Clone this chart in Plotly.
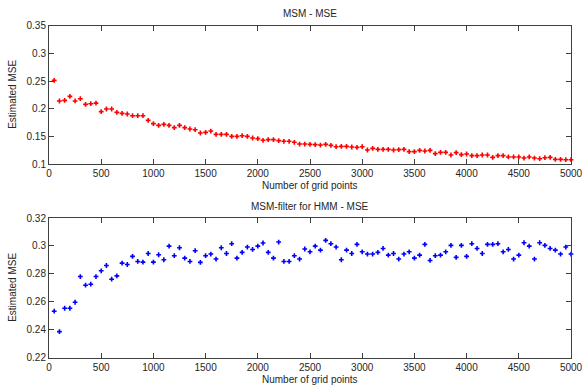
import plotly.graph_objects as go

grid_points = list(range(50, 5001, 50))

msm_mse = [
    0.2512, 0.2139, 0.2150, 0.2223, 0.2140, 0.2180, 0.2078, 0.2090, 0.2100, 0.1946,
    0.1994, 0.1994, 0.1934, 0.1916, 0.1904, 0.1873, 0.1873, 0.1873, 0.1789, 0.1729,
    0.1699, 0.1717, 0.1699, 0.1657, 0.1699, 0.1657, 0.1633, 0.1620, 0.1560, 0.1572,
    0.1596, 0.1536, 0.1536, 0.1536, 0.1500, 0.1500, 0.1512, 0.1500, 0.1470, 0.1458,
    0.1428, 0.1440, 0.1440, 0.1422, 0.1410, 0.1410, 0.1392, 0.1361, 0.1361, 0.1355,
    0.1350, 0.1343, 0.1355, 0.1337, 0.1313, 0.1319, 0.1319, 0.1307, 0.1301, 0.1313,
    0.1253, 0.1283, 0.1265, 0.1265, 0.1265, 0.1253, 0.1259, 0.1265, 0.1223, 0.1223,
    0.1247, 0.1235, 0.1247, 0.1187, 0.1211, 0.1211, 0.1163, 0.1205, 0.1169, 0.1181,
    0.1151, 0.1151, 0.1163, 0.1163, 0.1120, 0.1151, 0.1151, 0.1127, 0.1127, 0.1127,
    0.1108, 0.1127, 0.1108, 0.1096, 0.1114, 0.1120, 0.1084, 0.1084, 0.1078, 0.1078,
]

hmm_mse = [
    0.2533, 0.2387, 0.2554, 0.2554, 0.2597, 0.2781, 0.2719, 0.2726, 0.2781, 0.2822,
    0.2860, 0.2762, 0.2786, 0.2877, 0.2867, 0.2925, 0.2889, 0.2884, 0.2946, 0.2884,
    0.2937, 0.2901, 0.2999, 0.2930, 0.2987, 0.2913, 0.2889, 0.2966, 0.2882, 0.2930,
    0.2942, 0.2906, 0.2987, 0.2946, 0.3016, 0.2913, 0.2954, 0.2992, 0.2975, 0.2999,
    0.3021, 0.2954, 0.2913, 0.3028, 0.2889, 0.2889, 0.2930, 0.2906, 0.2978, 0.2958,
    0.2999, 0.2970, 0.3040, 0.3016, 0.2992, 0.2901, 0.2970, 0.2946, 0.3011, 0.2958,
    0.2942, 0.2942, 0.2954, 0.2982, 0.2934, 0.2946, 0.2906, 0.2942, 0.2958, 0.2913,
    0.2934, 0.3011, 0.2896, 0.2930, 0.2934, 0.2958, 0.3004, 0.2918, 0.3004, 0.2925,
    0.3016, 0.2982, 0.2946, 0.3011, 0.3011, 0.3016, 0.2958, 0.2975, 0.2906, 0.2934,
    0.3023, 0.2999, 0.2906, 0.3023, 0.3004, 0.2982, 0.2970, 0.2942, 0.2992, 0.2942,
]

titles = ["MSM - MSE", "MSM-filter for HMM - MSE"]
x_title = "Number of grid points"
y_title = "Estimated MSE"
x_ticks = [0, 500, 1000, 1500, 2000, 2500, 3000, 3500, 4000, 4500, 5000]
top_y_ticks = [0.1, 0.15, 0.2, 0.25, 0.3, 0.35]
bot_y_ticks = [0.22, 0.24, 0.26, 0.28, 0.3, 0.32]

FONT = "Liberation Sans, Arial, sans-serif"
TXT = "#262626"
FS = 10
W, H = 582, 385

fig = go.Figure()
fig.add_trace(go.Scatter(
    x=grid_points, y=msm_mse, mode="markers", xaxis="x", yaxis="y",
    marker=dict(symbol="cross", size=4, color="#ff0000", line=dict(width=0)),
    showlegend=False, cliponaxis=False))
fig.add_trace(go.Scatter(
    x=grid_points, y=hmm_mse, mode="markers", xaxis="x2", yaxis="y2",
    marker=dict(symbol="cross", size=4, color="#0000ff", line=dict(width=0)),
    showlegend=False, cliponaxis=False))

# pixel geometry of the two plot boxes
left, right = 49, 571
top1, bot1 = 25.7, 164
top2, bot2 = 218, 357.7


def fx(p):
    return p / W


def fy(p):
    return 1 - p / H


axis_common = dict(
    showgrid=False, zeroline=False, showline=True, linecolor="#404040", linewidth=1,
    mirror="ticks", ticks="inside", ticklen=5, tickcolor="#404040", tickwidth=1,
    tickfont=dict(family=FONT, size=FS, color=TXT), automargin=False,
    ticklabeloverflow="allow",
)

fig.update_layout(
    width=W, height=H, margin=dict(l=0, r=0, t=0, b=0, autoexpand=False),
    paper_bgcolor="white", plot_bgcolor="white",
    font=dict(family=FONT, size=FS, color=TXT),
    xaxis=dict(domain=[fx(left), fx(right)], range=[0, 5000], tickvals=x_ticks,
               anchor="y", **axis_common),
    yaxis=dict(domain=[fy(bot1), fy(top1)], range=[0.1, 0.35], tickvals=top_y_ticks,
               ticktext=[f"{v:g}" for v in top_y_ticks], anchor="x", **axis_common),
    xaxis2=dict(domain=[fx(left), fx(right)], range=[0, 5000], tickvals=x_ticks,
                anchor="y2", **axis_common),
    yaxis2=dict(domain=[fy(bot2), fy(top2)], range=[0.22, 0.32], tickvals=bot_y_ticks,
                ticktext=[f"{v:g}" for v in bot_y_ticks], anchor="x2", **axis_common),
)

cx = (left + right) / 2 / W
ann_font = dict(family=FONT, size=FS, color=TXT)
labels = [
    (titles[0], cx, 13, 0),
    (titles[1], cx, 207, 0),
    (x_title, cx, 186, 0),
    (x_title, cx, 379, 0),
    (y_title, 13 / W, (top1 + bot1) / 2, -90),
    (y_title, 13 / W, (top2 + bot2) / 2, -90),
]
for text, x, ypix, ang in labels:
    fig.add_annotation(text=text, x=x, y=fy(ypix), xref="paper", yref="paper",
                       showarrow=False, xanchor="center", yanchor="middle",
                       textangle=ang, font=ann_font)

fig.write_html(
    "out.html",
    config={"displayModeBar": False},
    post_script="document.body.style.margin='0';document.body.style.overflow='hidden';",
)
